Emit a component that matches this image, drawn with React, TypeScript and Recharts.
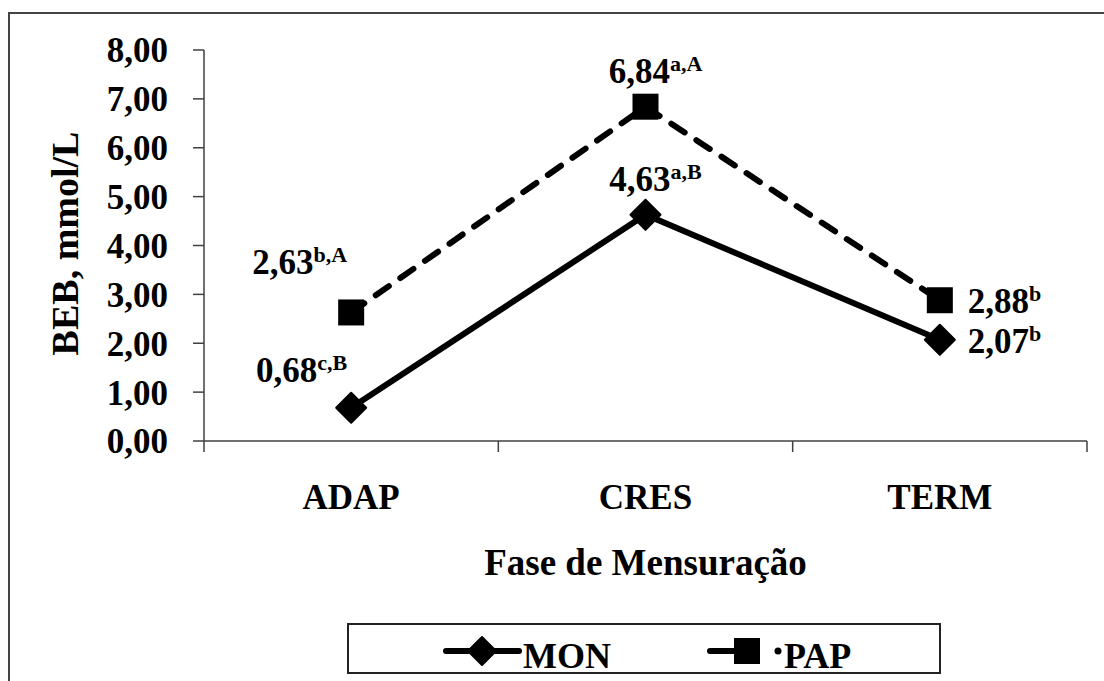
import React from 'react';
import { ComposedChart, Line, XAxis, YAxis, Legend } from 'recharts';

const phases = ['ADAP', 'CRES', 'TERM'];
const monValues = [0.68, 4.63, 2.07];
const papValues = [2.63, 6.84, 2.88];
const monSup = ['c,B', 'a,B', 'b'];
const papSup = ['b,A', 'a,A', 'b'];
const yTicks = [0, 1, 2, 3, 4, 5, 6, 7, 8];

const data = phases.map((p, i) => ({ phase: p, MON: monValues[i], PAP: papValues[i] }));

const FONT = '"Liberation Serif", "Times New Roman", serif';
const AXIS = '#404040';
const fmt = (v: number) => v.toFixed(2).replace('.', ',');
const TICK_MARGIN = 44;

const Diamond = (props: any) => {
  const { cx, cy } = props;
  if (cx == null || cy == null) return null;
  const r = 15;
  return (
    <polygon
      points={`${cx},${cy - r} ${cx + r},${cy} ${cx},${cy + r} ${cx - r},${cy}`}
      fill="#000"
      stroke="#000"
      strokeWidth={2}
      strokeLinejoin="round"
    />
  );
};

const Square = (props: any) => {
  const { cx, cy } = props;
  if (cx == null || cy == null) return null;
  const h = 13;
  return <rect x={cx - h} y={cy - h} width={2 * h} height={2 * h} fill="#000" />;
};

const CatTick = (props: any) => {
  const { x, y, payload, visibleTicksCount } = props;
  const off = payload?.offset ?? 0;
  const axisY = y - TICK_MARGIN;
  const last = payload?.index === (visibleTicksCount ?? phases.length) - 1;
  return (
    <g>
      <line x1={x - off} y1={axisY} x2={x - off} y2={axisY + 11} stroke={AXIS} strokeWidth={1.5} />
      {last && <line x1={x + off} y1={axisY} x2={x + off} y2={axisY + 11} stroke={AXIS} strokeWidth={1.5} />}
      <text x={x} y={y + 24} textAnchor="middle" fontFamily={FONT} fontWeight="bold" fontSize={35} fill="#000">
        {payload?.value}
      </text>
    </g>
  );
};

const makeLabel = (sups: string[], upLeftDy: number) => (props: any) => {
  const { x, y, value, index } = props;
  let tx = x;
  let ty = y;
  let anchor: 'start' | 'middle' | 'end' = 'middle';
  if (index === 0) {
    tx = x - 4;
    ty = y + upLeftDy;
    anchor = 'end';
  } else if (index === 1) {
    tx = x + 10;
    ty = y - 24;
    anchor = 'middle';
  } else {
    tx = x + 28;
    ty = y + 13;
    anchor = 'start';
  }
  return (
    <text x={tx} y={ty} textAnchor={anchor} fontFamily={FONT} fontWeight="bold" fill="#000">
      <tspan fontSize={35}>{fmt(value)}</tspan>
      <tspan fontSize={22} dy={-12}>{sups[index]}</tspan>
    </text>
  );
};

const LegendBox = () => (
  <div
    style={{
      width: 594,
      height: 51,
      border: '2px solid #222',
      boxSizing: 'border-box',
      background: '#fff',
    }}
  >
    <svg width={590} height={47} style={{ display: 'block', overflow: 'visible' }}>
      <g>
        <line x1={97} y1={26} x2={170} y2={26} stroke="#000" strokeWidth={6} strokeLinecap="round" />
        <polygon points="133,12 147,26 133,40 119,26" fill="#000" stroke="#000" strokeWidth={2} strokeLinejoin="round" />
        <text x={174} y={43} fontFamily={FONT} fontWeight="bold" fontSize={36} fill="#000">MON</text>
      </g>
      <g>
        <line x1={361} y1={26} x2={386} y2={26} stroke="#000" strokeWidth={6} strokeLinecap="round" />
        <rect x={385} y={13} width={26} height={26} fill="#000" />
        <circle cx={429} cy={26} r={3.5} fill="#000" />
        <text x={435} y={43} fontFamily={FONT} fontWeight="bold" fontSize={36} fill="#000">PAP</text>
      </g>
    </svg>
  </div>
);

export default function App() {
  return (
    <div style={{ position: 'absolute', left: 0, top: 0, width: 1104, height: 681, overflow: 'hidden', background: '#fff' }}>
      <div
        style={{
          position: 'absolute',
          left: 8,
          top: 12,
          width: 1200,
          height: 800,
          borderLeft: '2px solid #444',
          borderTop: '2px solid #444',
        }}
      />
      <div style={{ position: 'absolute', left: 0, top: 0 }}>
        <ComposedChart
          width={1104}
          height={681}
          data={data}
          margin={{ top: 50, right: 17, bottom: 100, left: 84 }}
        >
          <XAxis
            dataKey="phase"
            type="category"
            scale="band"
            height={140}
            axisLine={{ stroke: AXIS, strokeWidth: 1.5 }}
            tickLine={false}
            tickSize={0}
            tickMargin={TICK_MARGIN}
            interval={0}
            tick={<CatTick />}
            label={(p: any) => {
              const vb = p.viewBox || {};
              const cx = (vb.x ?? 204) + (vb.width ?? 883) / 2;
              return (
                <text x={cx} y={(vb.y ?? 441) + 134} textAnchor="middle" fontFamily={FONT} fontWeight="bold" fontSize={37} fill="#000">
                  Fase de Mensuração
                </text>
              );
            }}
          />
          <YAxis
            domain={[0, 8]}
            ticks={yTicks}
            width={120}
            tickSize={11}
            tickMargin={25}
            tickFormatter={fmt}
            tick={{ fontFamily: FONT, fontWeight: 'bold', fontSize: 35, fill: '#000' }}
            axisLine={{ stroke: AXIS, strokeWidth: 1.5 }}
            tickLine={{ stroke: AXIS, strokeWidth: 1.5 }}
            label={(p: any) => {
              const vb = p.viewBox || {};
              const cy = (vb.y ?? 50) + (vb.height ?? 391) / 2 - 2;
              const x = 78;
              return (
                <text x={x} y={cy} transform={`rotate(-90 ${x} ${cy})`} textAnchor="middle" fontFamily={FONT} fontWeight="bold" fontSize={38} fill="#000">
                  BEB, mmol/L
                </text>
              );
            }}
          />
          <Line
            dataKey="PAP"
            name="PAP"
            stroke="#000"
            strokeWidth={6}
            strokeDasharray="16 14"
            strokeLinecap="round"
            dot={<Square />}
            activeDot={false}
            isAnimationActive={false}
            label={makeLabel(papSup, -38)}
          />
          <Line
            dataKey="MON"
            name="MON"
            stroke="#000"
            strokeWidth={6}
            strokeLinecap="round"
            dot={<Diamond />}
            activeDot={false}
            isAnimationActive={false}
            label={makeLabel(monSup, -26)}
          />
          <Legend
            layout="horizontal"
            verticalAlign="middle"
            align="center"
            wrapperStyle={{ position: 'absolute', left: 347, top: 623, width: 594, height: 51, margin: 0 }}
            content={() => <LegendBox />}
          />
        </ComposedChart>
      </div>
    </div>
  );
}
